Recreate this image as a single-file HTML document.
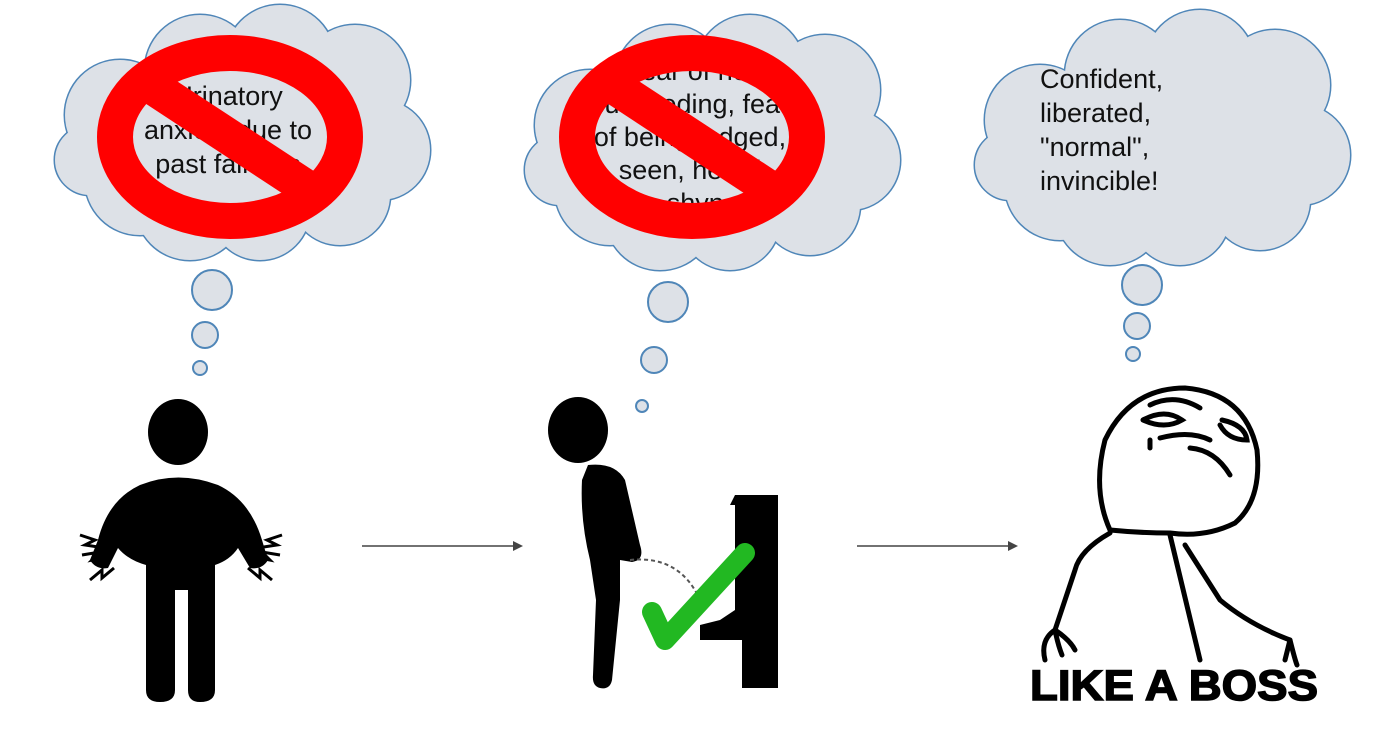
<!DOCTYPE html>
<html><head><meta charset="utf-8"><style>
html,body{margin:0;padding:0;background:#fff;}
svg{display:block}
text{font-family:"Liberation Sans",sans-serif}
</style></head><body>
<svg width="1380" height="730" viewBox="0 0 1380 730" xmlns="http://www.w3.org/2000/svg">
<defs>
<g id="cloud">
  <circle cx="-120" cy="-20" r="55"/>
  <circle cx="-100" cy="45" r="55"/>
  <circle cx="-40" cy="-65" r="55"/>
  <circle cx="40" cy="-75" r="55"/>
  <circle cx="115" cy="-55" r="55"/>
  <circle cx="140" cy="15" r="50"/>
  <circle cx="100" cy="60" r="50"/>
  <circle cx="20" cy="75" r="50"/>
  <circle cx="-50" cy="70" r="55"/>
  <circle cx="-150" cy="25" r="35"/>
  <ellipse cx="0" cy="0" rx="140" ry="80"/>
</g>
</defs>
<g fill="#dde1e7" stroke="#4f86b8" stroke-width="3">
  <use href="#cloud" transform="translate(240,135)"/>
  <use href="#cloud" transform="translate(710,145)"/>
  <use href="#cloud" transform="translate(1160,140)"/>
</g>
<g fill="#dde1e7" stroke="none">
  <use href="#cloud" transform="translate(240,135)"/>
  <use href="#cloud" transform="translate(710,145)"/>
  <use href="#cloud" transform="translate(1160,140)"/>
</g>
<g fill="#dde1e7" stroke="#4f86b8" stroke-width="2">
  <circle cx="212" cy="290" r="20"/><circle cx="205" cy="335" r="13"/><circle cx="200" cy="368" r="7"/>
  <circle cx="668" cy="302" r="20"/><circle cx="654" cy="360" r="13"/><circle cx="642" cy="406" r="6"/>
  <circle cx="1142" cy="285" r="20"/><circle cx="1137" cy="326" r="13"/><circle cx="1133" cy="354" r="7"/>
</g>
<g font-size="27" fill="#111">
  <text text-anchor="middle"><tspan x="228" y="105">Urinatory</tspan><tspan x="228" y="139">anxiety due to</tspan><tspan x="228" y="173">past failures</tspan></text>
  <text text-anchor="middle"><tspan x="690" y="80">Fear of not</tspan><tspan x="690" y="113">succeeding, fear</tspan><tspan x="690" y="146">of being judged,</tspan><tspan x="690" y="179">seen, heard</tspan><tspan x="690" y="212">(pee shyness)</tspan></text>
  <text><tspan x="1040" y="88">Confident,</tspan><tspan x="1040" y="122">liberated,</tspan><tspan x="1040" y="156">"normal",</tspan><tspan x="1040" y="190">invincible!</tspan></text>
</g>
<g fill="none" stroke="#ff0000" stroke-width="36">
  <ellipse cx="230" cy="137" rx="115" ry="84"/>
  <line x1="150" y1="85" x2="310" y2="190"/>
  <ellipse cx="692" cy="137" rx="115" ry="84"/>
  <line x1="612" y1="85" x2="772" y2="190"/>
</g>
<g stroke="#444" stroke-width="1.5" fill="#444">
  <line x1="362" y1="546" x2="516" y2="546"/><path d="M523 546 L513 541 L513 551Z" stroke="none"/>
  <line x1="857" y1="546" x2="1011" y2="546"/><path d="M1018 546 L1008 541 L1008 551Z" stroke="none"/>
</g>
<g fill="#000">
  <ellipse cx="178" cy="432" rx="30" ry="33"/>
  <path d="M140 485 Q178 470 218 485 Q250 500 262 540 L268 560 Q262 570 250 568 L238 548 Q230 560 215 565 L215 690 Q215 702 200 702 Q188 702 188 690 L188 590 L175 590 L175 690 Q175 702 160 702 Q146 702 146 690 L146 565 Q128 560 118 548 L108 568 Q96 570 90 560 L98 540 Q108 500 140 485Z"/>
  <path d="M80 535 l15 5 -10 5 20 3 M82 555 l18 -3 -8 8 20 -4 M90 580 l12 -10 0 8 12 -10" stroke="#000" stroke-width="3" fill="none"/>
  <path d="M282 535 l-15 5 10 5 -20 3 M280 555 l-18 -3 8 8 -20 -4 M272 580 l-12 -10 0 8 -12 -10" stroke="#000" stroke-width="3" fill="none"/>
</g>
<g fill="#000">
  <ellipse cx="578" cy="430" rx="30" ry="33"/>
  <path d="M588 465 Q615 462 625 480 L640 545 Q645 560 632 562 L620 560 L620 600 L612 680 Q610 690 600 688 Q592 686 593 675 L596 600 L590 560 Q580 520 582 480Z"/>
  <path d="M735 495 L778 495 L778 688 L742 688 L742 640 L700 640 L700 625 L720 620 L735 610 L735 505 L730 505Z"/>
  <path d="M630 560 Q680 555 700 600" fill="none" stroke="#555" stroke-width="2" stroke-dasharray="4 3"/>
  <path d="M652 612 L665 640 L745 553" fill="none" stroke="#22b822" stroke-width="20" stroke-linecap="round" stroke-linejoin="round"/>
</g>
<g fill="none" stroke="#000" stroke-width="5" stroke-linecap="round">
  <path d="M1110 530 Q1092 490 1105 440 Q1130 388 1185 388 Q1245 393 1257 450 Q1262 500 1235 523 Q1205 538 1170 533 Q1140 533 1110 530Z"/>
  <path d="M1150 405 Q1175 393 1200 408 M1143 420 Q1165 408 1182 420 Q1165 430 1143 420 M1222 420 Q1245 425 1247 440 Q1228 440 1220 425"/>
  <path d="M1150 440 L1150 448 M1160 438 Q1190 430 1210 440 M1190 448 Q1215 450 1230 475"/>
  <path d="M1110 533 Q1080 550 1075 570 L1055 630 M1170 535 L1200 660 M1185 545 L1220 600 Q1250 625 1290 640"/>
  <path d="M1055 630 Q1040 640 1045 660 M1055 630 Q1058 645 1062 655 M1055 630 Q1070 640 1075 650 M1290 640 Q1295 660 1297 665 M1290 640 L1285 660"/>
</g>
<text x="1030" y="700" font-size="43" font-weight="bold" fill="#000" stroke="#000" stroke-width="1.5" textLength="288" lengthAdjust="spacingAndGlyphs">LIKE A BOSS</text>
</svg>
</body></html>
